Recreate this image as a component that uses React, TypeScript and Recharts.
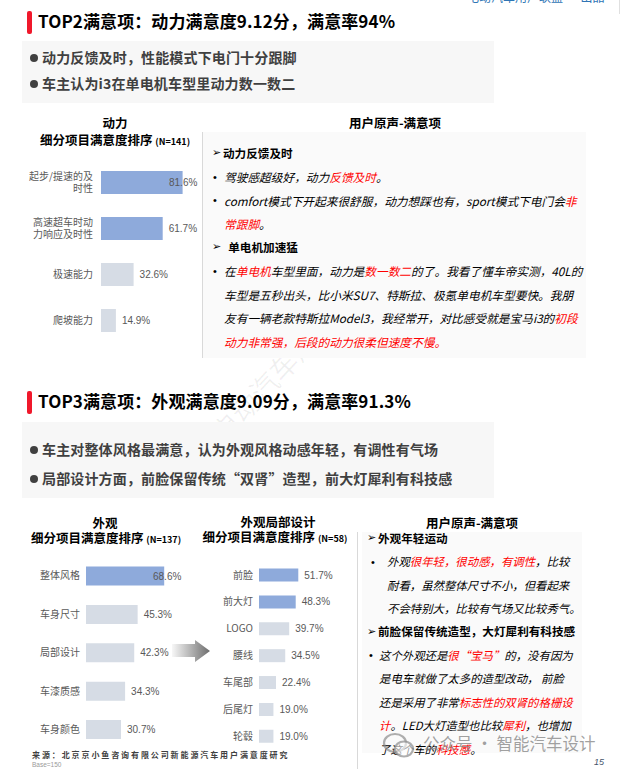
import React from 'react';
import { BarChart, Bar, XAxis, YAxis, Cell, LabelList } from 'recharts';

// ---------- data ----------
const powerCats = ['起步/提速的及\n时性', '高速超车时动\n力响应及时性', '极速能力', '爬坡能力'];
const powerVals = [81.6, 61.7, 32.6, 14.9];
const lookCats = ['整体风格', '车身尺寸', '局部设计', '车漆质感', '车身颜色'];
const lookVals = [68.6, 45.3, 42.3, 34.3, 30.7];
const detailCats = ['前脸', '前大灯', 'LOGO', '腰线', '车尾部', '后尾灯', '轮毂'];
const detailVals = [51.7, 48.3, 39.7, 34.5, 22.4, 19.0, 19.0];

const sec1Title = 'TOP2满意项：动力满意度9.12分，满意率94%';
const sec1Bullets = ['动力反馈及时，性能模式下电门十分跟脚', '车主认为i3在单电机车型里动力数一数二'];
const sec2Title = 'TOP3满意项：外观满意度9.09分，满意率91.3%';
const sec2Bullets = ['车主对整体风格最满意，认为外观风格动感年轻，有调性有气场', '局部设计方面，前脸保留传统“双肾”造型，前大灯犀利有科技感'];

// {..} marks red text
const voice1 = [
  { head: '动力反馈及时', items: [['驾驶感超级好，动力{反馈及时}。'], ['comfort模式下开起来很舒服，动力想踩也有，sport模式下电门会{非}', '{常跟脚}。']] },
  { head: '  单电机加速猛', items: [['在{单电机}车型里面，动力是{数一数二}的了。我看了懂车帝实测，40L的', '车型是五秒出头，比小米SU7、特斯拉、极氪单电机车型要快。我朋', '友有一辆老款特斯拉Model3，我经常开，对比感受就是宝马i3的{初段}', '{动力非常强，后段的动力很柔但速度不慢。}']] },
];
const voice2 = [
  { head: '外观年轻运动', items: [['外观{很年轻，很动感，有调性}，比较', '耐看，虽然整体尺寸不小，但看起来', '不会特别大，比较有气场又比较秀气。']] },
  { head: '前脸保留传统造型，大灯犀利有科技感', items: [['这个外观还是{很“宝马”}的，没有因为', '是电车就做了太多的造型改动， 前脸', '还是采用了非常{标志性的双肾的格栅设}', '{计}。LED大灯造型也比较{犀利}，也增加', '了这个车的{科技感}。']] },
];

// ---------- styles ----------
const CJK = '"Noto Sans CJK SC", "Noto Sans", sans-serif';
const LAT = '"Liberation Sans", Arial, sans-serif';
const BLUE = '#8eaadb';
const GRAY = '#d6dce5';
const LBL = '#595959';

const Txt = ({ x, y, size, bold, color = '#000', italic, anchor = 'start', family, ls, children, style }: any) => (
  <div
    style={{
      position: 'absolute', left: x, top: y - size * 0.65 - size * 0.05, height: size * 1.3, lineHeight: `${size * 1.3}px`,
      fontSize: size, fontWeight: bold ? 700 : 400, color, fontStyle: italic ? 'italic' : 'normal',
      whiteSpace: 'pre', fontFamily: family ?? CJK, letterSpacing: ls,
      transform: anchor === 'middle' ? 'translateX(-50%)' : anchor === 'end' ? 'translateX(-100%)' : undefined,
      ...style,
    }}
  >
    {children}
  </div>
);

const rich = (s: string) =>
  s.split(/(\{[^}]*\})/).filter(Boolean).map((p, i) =>
    p.startsWith('{') ? <span key={i} style={{ color: '#ff0000' }}>{p.slice(1, -1)}</span> : <span key={i}>{p}</span>
  );

const CatTick = (props: any) => {
  const { x, y, payload } = props;
  const lines = String(payload.value).split('\n');
  const lh = 12;
  const y0 = y - ((lines.length - 1) * lh) / 2;
  return (
    <text textAnchor="end" fontSize={10} fill={LBL} fontFamily={CJK}>
      {lines.map((l, i) => (
        <tspan key={i} x={x} y={y0 + i * lh} dy="0.36em">{l}</tspan>
      ))}
    </text>
  );
};

const valLabel = (maxX: number) => (props: any) => {
  const { x, y, width, height, value } = props;
  const lx = Math.min(Number(x) + Number(width) + 6, maxX);
  return (
    <text x={lx} y={Number(y) + Number(height) / 2} dy="0.35em" fontSize={10} fill={LBL} fontFamily={LAT}>
      {Number(value).toFixed(1)}%
    </text>
  );
};

const HBar = ({ cats, vals, blueN, left, top, width, height, margin, axisW, tickMargin, barSize, maxLabelX }: any) => {
  const data = cats.map((name: string, i: number) => ({ name, value: vals[i] }));
  return (
    <div style={{ position: 'absolute', left, top }}>
      <BarChart layout="vertical" width={width} height={height} data={data} margin={margin}>
        <XAxis type="number" domain={[0, 100]} hide />
        <YAxis type="category" dataKey="name" width={axisW} axisLine={false} tickLine={false} tickSize={6} tickMargin={tickMargin} interval={0} tick={<CatTick />} />
        <Bar dataKey="value" barSize={barSize} isAnimationActive={false}>
          {data.map((_: any, i: number) => <Cell key={i} fill={i < blueN ? BLUE : GRAY} />)}
          <LabelList dataKey="value" content={valLabel(maxLabelX - left)} />
        </Bar>
      </BarChart>
    </div>
  );
};

const Section = ({ top, title, bullets, boxTop, boxH, bulletYs }: any) => (
  <>
    <div style={{ position: 'absolute', left: 27, top: top - 11.5, width: 4.5, height: 23, background: '#f0182b', borderRadius: 2 }} />
    <Txt x={38} y={top} size={17} bold color="#000" ls={0.1}>{title}</Txt>
    <div style={{ position: 'absolute', left: 22, top: boxTop, width: 472, height: boxH, background: '#f7f7f7' }} />
    {bullets.map((b: string, i: number) => (
      <React.Fragment key={i}>
        <div style={{ position: 'absolute', left: 30, top: bulletYs[i] - 4, width: 8, height: 8, borderRadius: 4, background: '#404040' }} />
        <Txt x={42} y={bulletYs[i]} size={14} bold color="#404040" ls={0.15}>{b}</Txt>
      </React.Fragment>
    ))}
  </>
);

const Voice = ({ groups, y0, step, arrowX, headX, dotX, textXs, size }: any) => {
  const out: any[] = [];
  let row = 0;
  groups.forEach((g: any, gi: number) => {
    const y = y0 + row * step;
    out.push(<Txt key={`a${gi}`} x={arrowX} y={y} size={11} color="#000" family='"DejaVu Sans", sans-serif'>➢</Txt>);
    out.push(<Txt key={`h${gi}`} x={headX} y={y} size={11.6} bold color="#000">{g.head}</Txt>);
    row++;
    g.items.forEach((lines: string[], ii: number) => {
      lines.forEach((ln: string, li: number) => {
        const yy = y0 + row * step;
        if (li === 0) out.push(<Txt key={`d${gi}${ii}`} x={dotX[gi]} y={yy} size={11} color="#000" family={LAT}>•</Txt>);
        out.push(<Txt key={`l${gi}${ii}${li}`} x={textXs[gi]} y={yy} size={size} italic color="#000">{rich(ln)}</Txt>);
        row++;
      });
    });
  });
  return <>{out}</>;
};

export default function App() {
  return (
    <div style={{ position: 'absolute', left: 0, top: 0, width: 621, height: 769, background: '#fff', overflow: 'hidden', fontFamily: CJK }}>
      {/* top-right cut header */}
      <Txt x={467} y={-3} size={12} color="#2f75b5">电动汽车用户联盟 · 出品</Txt>
      <div style={{ position: 'absolute', left: 619, top: 0, width: 1, height: 14, background: '#e0e0e0' }} />

      {/* faint diagonal watermark */}
      <div style={{ position: 'absolute', left: 180, top: 335, fontSize: 28, color: 'rgba(0,0,0,0.06)', transform: 'rotate(-47deg)', transformOrigin: 'center', whiteSpace: 'nowrap', fontFamily: CJK }}>
        电动汽车用户联盟
      </div>

      <Section top={22} title={sec1Title} bullets={sec1Bullets} boxTop={41} boxH={62} bulletYs={[57.5, 84]} />

      {/* chart 1 titles */}
      <Txt x={115} y={124} size={12.5} bold anchor="middle">动力</Txt>
      <Txt x={115} y={141} size={12.5} bold anchor="middle">细分项目满意度排序 <span style={{ fontSize: 9 }}>(N=141)</span></Txt>
      <HBar cats={powerCats} vals={powerVals} blueN={2} left={0} top={150} width={201} height={200}
        margin={{ top: 9, right: 0, bottom: 7, left: 0 }} axisW={101} tickMargin={2} barSize={23} maxLabelX={169} />

      {/* voice panel 1 */}
      <Txt x={395} y={124} size={12.5} bold anchor="middle">用户原声-满意项</Txt>
      <div style={{ position: 'absolute', left: 202, top: 132, width: 383, height: 226, background: '#fafafa', borderLeft: '1px solid #d9d9d9' }} />
      <Voice groups={voice1} y0={154} step={23.5} arrowX={212} headX={223} dotX={[213, 213]} textXs={[224, 224]} size={11.7} />

      <Section top={402} title={sec2Title} bullets={sec2Bullets} boxTop={422} boxH={76} bulletYs={[450, 479]} />

      {/* chart 2 */}
      <Txt x={105} y={524} size={12.5} bold anchor="middle">外观</Txt>
      <Txt x={106} y={539} size={12.5} bold anchor="middle">细分项目满意度排序 <span style={{ fontSize: 9 }}>(N=137)</span></Txt>
      <HBar cats={lookCats} vals={lookVals} blueN={1} left={0} top={548} width={200} height={210}
        margin={{ top: 8.5, right: 0, bottom: 9.5, left: 0 }} axisW={86} tickMargin={0} barSize={19} maxLabelX={153} />

      {/* arrow */}
      <svg style={{ position: 'absolute', left: 170, top: 636 }} width={42} height={30}>
        <defs>
          <linearGradient id="arrG" x1="0" x2="1" y1="0" y2="0">
            <stop offset="0" stopColor="#f7f7f7" />
            <stop offset="1" stopColor="#6d6d6d" />
          </linearGradient>
        </defs>
        <polygon points="2,8 25,8 25,4 40,15 25,26 25,21 2,21" fill="url(#arrG)" />
      </svg>

      {/* chart 3 */}
      <Txt x={278} y={523} size={12.5} bold anchor="middle">外观局部设计</Txt>
      <Txt x={275} y={538} size={12.5} bold anchor="middle">细分项目满意度排序 <span style={{ fontSize: 9 }}>(N=58)</span></Txt>
      <HBar cats={detailCats} vals={detailVals} blueN={2} left={200} top={552} width={155} height={205}
        margin={{ top: 9.6, right: 20, bottom: 7.4, left: 0 }} axisW={59} tickMargin={0} barSize={13} maxLabelX={999} />

      {/* voice panel 2 */}
      <div style={{ position: 'absolute', left: 357, top: 532, width: 1, height: 237, background: '#d9d9d9' }} />
      <Txt x={472} y={524} size={12.5} bold anchor="middle">用户原声-满意项</Txt>
      <div style={{ position: 'absolute', left: 362, top: 532, width: 220, height: 221, background: '#fafafa' }} />
      <Voice groups={voice2} y0={539} step={23.4} arrowX={367} headX={378} dotX={[371, 369]} textXs={[387, 379]} size={11.4} />

      {/* wechat watermark */}
      <svg style={{ position: 'absolute', left: 382, top: 732 }} width={34} height={28}>
        <ellipse cx={13} cy={11} rx={11} ry={9} fill="none" stroke="rgba(140,140,140,0.7)" strokeWidth={2.2} />
        <ellipse cx={22} cy={17} rx={9} ry={7.5} fill="rgba(255,255,255,0.6)" stroke="rgba(140,140,140,0.7)" strokeWidth={2.2} />
      </svg>
      <Txt x={423} y={745} size={16.5} color="rgba(130,130,130,0.75)">公众号 · 智能汽车设计</Txt>

      {/* source */}
      <Txt x={32} y={756} size={8} bold color="#404040" ls={1.9}>来源：北京京小鱼咨询有限公司新能源汽车用户满意度研究</Txt>
      <Txt x={32} y={766} size={6.5} color="#9a9a9a" family={LAT}>Base=150</Txt>
      <Txt x={594} y={763} size={9} italic color="#44546a" family={LAT}>15</Txt>
    </div>
  );
}
